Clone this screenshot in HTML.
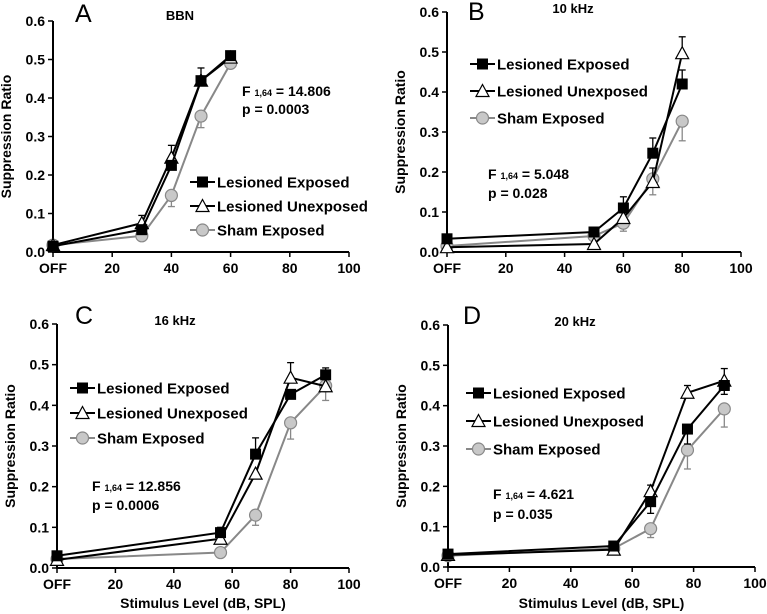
<!DOCTYPE html>
<html><head><meta charset="utf-8"><style>
body{margin:0;background:#fff;}
svg{display:block;font-family:"Liberation Sans",Arial,sans-serif;}
</style></head><body>
<svg id="chart" width="767" height="614" viewBox="0 0 767 614"></svg>
<script>
// ---- data ----
const xTickLabels = ["OFF","20","40","60","80","100"];
const xTickValues = [0,20,40,60,80,100];
const yTickLabels = ["0.0","0.1","0.2","0.3","0.4","0.5","0.6"];
const yTickValues = [0,0.1,0.2,0.3,0.4,0.5,0.6];
const seriesNames = ["Lesioned Exposed","Lesioned Unexposed","Sham Exposed"];

const xA = [0,30,40,50,60];
const leA = [0.015,0.058,0.225,0.445,0.51];
const luA = [0.018,0.075,0.245,0.445,0.505];
const seA = [0.018,0.042,0.147,0.353,0.49];
const leErrA = [0,0,0,0,0];
const luErrA = [0,0.02,0.032,0.033,0];
const seErrA = [0,-0.01,-0.029,-0.03,0];

const xB = [0,50,60,70,80];
const leB = [0.033,0.05,0.11,0.247,0.42];
const luB = [0.012,0.02,0.085,0.175,0.497];
const seB = [0.015,0.04,0.072,0.183,0.327];
const leErrB = [0,0,0.028,0.038,0.035];
const luErrB = [0,0,0,0.035,0.041];
const seErrB = [0,0,-0.02,-0.04,-0.049];

const xC = [0,56,68,80,92];
const leC = [0.03,0.087,0.28,0.427,0.475];
const luC = [0.02,0.072,0.232,0.468,0.447];
const seC = [0.022,0.038,0.13,0.357,0.448];
const leErrC = [0,0.013,0.04,0,0.017];
const luErrC = [0,0,0,0.037,0];
const seErrC = [0,0,-0.025,-0.04,-0.036];

const xD = [0,54,66,78,90];
const leD = [0.032,0.052,0.162,0.342,0.45];
const luD = [0.03,0.043,0.188,0.432,0.462];
const seD = [0.028,0.046,0.095,0.29,0.392];
const leErrD = [0,0,-0.029,-0.037,-0.022];
const luErrD = [0,0,0.015,0.018,0.03];
const seErrD = [0,0,-0.022,-0.047,-0.045];

const titles = ["BBN","10 kHz","16 kHz","20 kHz"];
const letters = ["A","B","C","D"];
const fStats = ["14.806","5.048","12.856","4.621"];
const pStats = ["0.0003","0.028","0.0006","0.035"];

// ---- layout ----
const panels = [
 {x0:53,x1:349,y0:252,y1:21,xs:xA,s:[leA,luA,seA],e:[leErrA,luErrA,seErrA],leg:[190,182,24],st:[242,96,18],let:[75,22],tt:[180,20],xt:false},
 {x0:447,x1:741,y0:252,y1:12,xs:xB,s:[leB,luB,seB],e:[leErrB,luErrB,seErrB],leg:[470,64,27],st:[488,179,19],let:[468,20],tt:[573,13],xt:false},
 {x0:57,x1:349,y0:568,y1:324,xs:xC,s:[leC,luC,seC],e:[leErrC,luErrC,seErrC],leg:[70,388,25],st:[92,491,19],let:[75,324],tt:[175,325],xt:true},
 {x0:448,x1:755,y0:567,y1:325,xs:xD,s:[leD,luD,seD],e:[leErrD,luErrD,seErrD],leg:[466,393,28],st:[493,499,20],let:[463,324],tt:[575,326],xt:true}
];
const colors = ["#000","#000","#888"];
const NS="http://www.w3.org/2000/svg";
const svg=document.getElementById("chart");
function el(t,a,p){const e=document.createElementNS(NS,t);for(const k in a)e.setAttribute(k,a[k]);(p||svg).appendChild(e);return e;}
function marker(g,k,cx,cy){
 if(k===0) return el("rect",{x:cx-5.5,y:cy-5.5,width:11,height:11,fill:"#000"},g);
 if(k===1) return el("polygon",{points:`${cx},${cy-6.5} ${cx+6.5},${cy+5.5} ${cx-6.5},${cy+5.5}`,fill:"#fff",stroke:"#000","stroke-width":1.2},g);
 return el("circle",{cx:cx,cy:cy,r:6,fill:"#c8c8c8",stroke:"#888","stroke-width":1.2},g);
}
panels.forEach((P,pi)=>{
 const g=el("g",{});
 
 
 const sx=v=>P.x0+(v/100)*(P.x1-P.x0);
 const sy=v=>P.y0-(v/0.6)*(P.y0-P.y1);
 const ax=el("path",{d:`M${P.x0},${P.y1} V${P.y0} H${P.x1}`,stroke:"#000","stroke-width":2,fill:"none"},g);
 
 
 yTickValues.forEach((v,i)=>{
  el("line",{x1:P.x0-5,x2:P.x0,y1:sy(v),y2:sy(v),stroke:"#000","stroke-width":1.5},g);
  const t=el("text",{x:P.x0-8,y:sy(v)+5,"text-anchor":"end","font-size":14,"font-weight":"bold"},g);
  t.textContent=yTickLabels[i];
  
  
 });
 xTickValues.forEach((v,i)=>{
  el("line",{x1:sx(v),x2:sx(v),y1:P.y0,y2:P.y0+5,stroke:"#000","stroke-width":1.5},g);
  const t=el("text",{x:sx(v),y:P.y0+21,"text-anchor":"middle","font-size":14,"font-weight":"bold"},g);
  t.textContent=xTickLabels[i];
  
  
 });
 const yt=el("text",{x:0,y:0,"text-anchor":"middle","font-size":14,"font-weight":"bold",transform:`translate(${P.x0-42},${(P.y0+P.y1)/2}) rotate(-90)`},g);
 yt.textContent="Suppression Ratio";
 
 
 if(P.xt){
  const xt=el("text",{x:(P.x0+P.x1)/2,y:608,"text-anchor":"middle","font-size":14,"font-weight":"bold"},g);
  xt.textContent="Stimulus Level (dB, SPL)";
  
  
 }
 const lt=el("text",{x:P.let[0],y:P.let[1],"font-size":25},g);
 lt.textContent=letters[pi];
 
 
 const tt=el("text",{x:P.tt[0],y:P.tt[1],"text-anchor":"middle","font-size":13,"font-weight":"bold"},g);
 tt.textContent=titles[pi];
 
 
 const f=el("text",{x:P.st[0],y:P.st[1],"font-size":14,"font-weight":"bold"},g);
 f.innerHTML=`F <tspan font-size="9">1,64</tspan> = ${fStats[pi]}`;
 
 
 const p=el("text",{x:P.st[0],y:P.st[1]+P.st[2],"font-size":14,"font-weight":"bold"},g);
 p.textContent="p = "+pStats[pi];
 
 
 [2,1,0].forEach(k=>{
  const sg=el("g",{},g);
  
  
  const ys=P.s[k], es=P.e[k];
  ys.forEach((v,i)=>{ if(es[i]!==0){
   const a=sy(v), b=sy(v+es[i]), x=sx(P.xs[i]);
   el("line",{x1:x,x2:x,y1:a,y2:b,stroke:colors[k],"stroke-width":1.3},sg);
   el("line",{x1:x-3.5,x2:x+3.5,y1:b,y2:b,stroke:colors[k],"stroke-width":1.3},sg);
  }});
  el("polyline",{points:ys.map((v,i)=>sx(P.xs[i])+","+sy(v)).join(" "),fill:"none",stroke:colors[k],"stroke-width":2},sg);
  ys.forEach((v,i)=>{const m=marker(sg,k,sx(P.xs[i]),sy(v));
   
   });
 });
 seriesNames.forEach((n,k)=>{
  const lg=el("g",{},g);
  
  
  const ly=P.leg[1]+k*P.leg[2];
  el("line",{x1:P.leg[0],x2:P.leg[0]+25,y1:ly,y2:ly,stroke:colors[k],"stroke-width":2},lg);
  marker(lg,k,P.leg[0]+12.5,ly);
  const t=el("text",{x:P.leg[0]+27,y:ly+5.5,"font-size":15,"font-weight":"bold"},lg);
  t.textContent=n;
 });
});
</script>
</body></html>
